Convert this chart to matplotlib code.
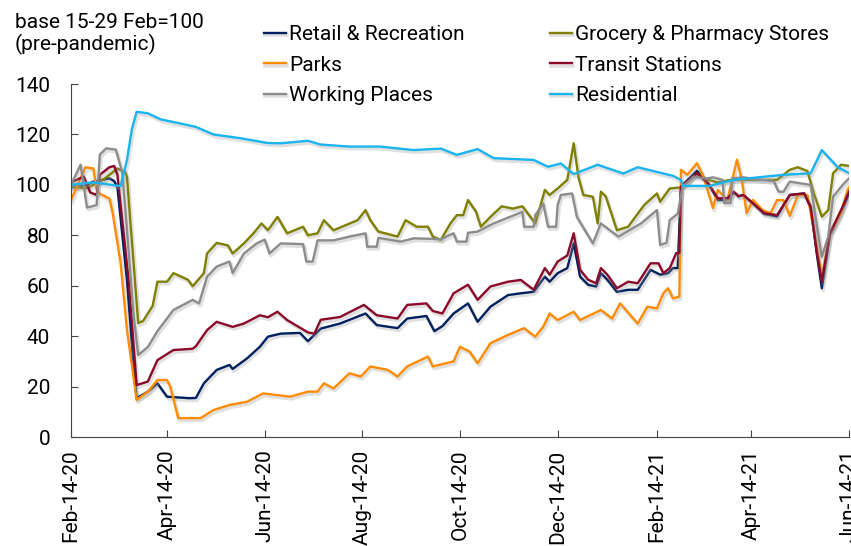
import numpy as np
import matplotlib.pyplot as plt
import matplotlib.dates as mdates
import matplotlib.patheffects as pe

plt.rcParams['font.family'] = ['Roboto', 'DejaVu Sans']

# days since 14 Feb 2020, index values (base 15-29 Feb = 100)
retail_days = [0, 8, 14, 24, 27, 29, 35, 39, 41, 48, 54, 60, 74, 78, 83, 91, 99, 101, 110, 118,
               123, 131, 143, 148, 156, 168, 184, 191, 204, 210, 222, 227, 232, 239, 248, 254,
               262, 273, 281, 289, 296, 299, 304, 310, 314, 318, 323, 328, 331, 335, 341, 348,
               354, 362, 368, 373, 376, 379, 381, 391, 398, 404, 410, 414, 417, 420, 426, 433,
               441, 449, 458, 462, 466, 469, 474, 481, 486]
retail = [99, 99.5, 101.3, 102.6, 101.5, 99, 62, 29, 15.4, 18, 21.3, 16, 15.4, 15.5, 21.3, 26.6,
          28.6, 27, 31.2, 35.8, 39.8, 41, 41.3, 38, 43, 45, 49, 44.4, 43.2, 47, 48, 42, 44, 49,
          53, 45.7, 51.7, 56.3, 57, 57.6, 63.6, 61.6, 65, 67, 76.8, 63.6, 60.4, 59.7, 65, 62.4,
          57.6, 58.4, 58.4, 66.3, 64.4, 65, 67, 67, 99.3, 105.6, 100.6, 94, 94, 97, 95.5, 96,
          92.7, 88.5, 87.5, 96, 96.6, 91, 72, 59, 80, 89, 96.5]

grocery_days = [0, 10, 20, 29, 34, 35, 37, 42, 45, 51, 54, 60, 64, 73, 76, 83, 85, 91, 98, 101,
                108, 114, 119, 123, 129, 135, 145, 148, 154, 158, 164, 179, 184, 187, 192, 204,
                209, 216, 223, 226, 231, 237, 241, 245, 248, 253, 256, 262, 269, 276, 282, 287,
                290, 293, 296, 299, 304, 310, 314, 317, 320, 326, 329, 331, 334, 341, 348, 358,
                366, 368, 374, 381, 391, 398, 404, 412, 420, 431, 441, 449, 454, 460, 464, 469,
                473, 476, 481, 486]
grocery = [99.3, 98.7, 102, 106.5, 105, 103, 86, 45.2, 46, 52, 61.6, 61.6, 65, 62.4, 59.8, 65,
           72.8, 77, 76, 72.8, 76.8, 80.8, 84.7, 82, 87.3, 80.8, 83.4, 80, 80.8, 86, 82, 86, 90,
           86, 81.5, 79.5, 86, 83.4, 83.4, 79.5, 78.2, 84.7, 88, 88, 94, 89.4, 83.4, 87.3, 91.5,
           90.6, 91.5, 87.3, 84.7, 91.3, 98, 96, 98.6, 102, 116.5, 103, 96, 95.3, 84.7, 97.3,
           95.5, 82, 83.4, 92, 96.6, 93.3, 98.6, 99, 104.6, 102, 101, 102, 102, 102, 102, 106,
           107, 105.5, 96.6, 87.4, 90, 104.6, 108, 107.5]

parks_days = [0, 9, 14, 16, 18, 24, 26, 31, 35, 41, 48, 54, 60, 62, 67, 81, 89, 99, 110, 120,
              137, 148, 154, 158, 164, 174, 181, 187, 198, 204, 210, 223, 226, 239, 243, 249,
              254, 262, 273, 283, 290, 295, 299, 304, 314, 318, 331, 338, 343, 354, 360, 366,
              370, 373, 376, 380, 381, 385, 391, 395, 401, 404, 410, 413, 416, 419, 422, 426,
              432, 437, 441, 445, 449, 454, 460, 464, 469, 474, 481, 485, 487]
parks = [94, 107, 106.5, 98, 96.5, 94.6, 89, 69, 42.4, 14.7, 18, 22.6, 22.6, 20, 7.5, 7.5, 10.7,
         12.7, 14, 17.3, 16, 18, 18, 21.3, 19.3, 25.3, 24, 28, 26.6, 24, 28, 31.9, 28, 30, 35.8,
         33.9, 29.3, 37.2, 40.5, 43.2, 39.8, 43.8, 49, 46.4, 49.7, 46.4, 50.4, 47, 53, 45, 51.7,
         51, 57, 59, 55, 55.7, 106, 104, 108.6, 103.5, 90.8, 98, 94, 102, 110, 102, 88.8, 94, 90,
         88.8, 94, 94, 87.7, 96, 96, 82, 63.6, 80.8, 88.8, 98, 100]

transit_days = [0, 8, 12, 16, 18, 24, 27, 29, 36, 41, 48, 54, 64, 76, 78, 85, 91, 101, 108, 118,
                123, 129, 135, 148, 152, 156, 168, 183, 191, 204, 210, 222, 226, 232, 239, 248,
                254, 262, 273, 281, 289, 296, 299, 304, 310, 314, 318, 323, 328, 331, 335, 341,
                348, 354, 362, 367, 370, 374, 378, 380, 381, 391, 398, 404, 410, 414, 417, 420,
                426, 433, 441, 449, 458, 462, 466, 469, 474, 481, 486]
transit = [101, 103.3, 97, 96, 104, 107, 107.5, 104, 62, 20.6, 22, 30.5, 34.5, 35, 36, 42.4, 45.7,
           43.7, 45, 48.3, 47.5, 49.7, 46.4, 41.5, 41, 46.5, 47.6, 52.4, 48.3, 47, 52.4, 53, 50,
           49, 57, 60.4, 54.4, 59.7, 61.6, 62.3, 58.4, 67, 64.4, 69.6, 72, 80.8, 66.3, 62.4, 61,
           67, 64.4, 59, 61.6, 61, 68.9, 68.9, 65, 67, 72.9, 73, 99.3, 104.6, 100.6, 94.7, 94.7,
           97.3, 95.5, 96, 92.7, 88.8, 88, 96, 96.6, 91.3, 72.9, 61.6, 80.8, 90, 97.3]

working_days = [0, 6, 10, 16, 18, 22, 28, 32, 35, 39, 42, 48, 54, 64, 76, 80, 85, 91, 99, 101,
                108, 116, 121, 124, 131, 145, 147, 151, 154, 164, 174, 184, 185, 191, 192, 206,
                214, 231, 239, 241, 247, 248, 254, 264, 274, 282, 283, 289, 290, 295, 298, 303,
                304, 306, 313, 316, 326, 331, 342, 356, 366, 368, 372, 374, 379, 382, 389, 397,
                401, 407, 408, 412, 413, 420, 431, 439, 442, 445, 449, 462, 466, 469, 473, 476,
                482, 486]
working = [100, 108, 91, 92, 112, 114.5, 114, 105, 82, 49, 32.5, 35.7, 42, 50.4, 54.4, 53, 63.6,
           67.6, 69.6, 65, 72.8, 76.8, 78.3, 72.8, 76.8, 76.5, 69.6, 69.6, 78, 78, 79.5, 80.8,
           75.5, 75.5, 79, 77.5, 78.8, 78.5, 80.8, 77.5, 77.5, 81, 81.5, 84.7, 87.3, 89.3, 83.4,
           83.4, 88, 92.6, 83.4, 83.4, 92, 96, 96.6, 87.3, 76.8, 84.7, 79.5, 84.7, 90, 76.2, 77,
           86, 88.6, 99.3, 103.3, 102.5, 103, 102, 92.8, 92.8, 102.6, 103, 102, 101.5, 97.3, 97.3,
           101.3, 100, 83.4, 71.5, 79.5, 95.3, 100, 102.6]

residential_days = [0, 14, 31, 35, 38, 41, 48, 56, 68, 78, 89, 106, 123, 131, 148, 156, 174, 193,
                    214, 231, 241, 254, 264, 289, 298, 306, 314, 329, 345, 354, 376, 381, 382,
                    399, 414, 445, 462, 469, 479, 486]
residential = [100, 101, 99.5, 110, 122, 129, 128.4, 126, 124.4, 123, 120, 118.5, 116.6, 116.5,
               117.5, 116, 115.2, 115.2, 113.8, 114.4, 111.9, 114.2, 110.6, 109.9, 107.2, 108.5,
               104.3, 108, 104.5, 107, 103.6, 102, 99.6, 99.6, 102, 104, 104.6, 113.8, 107, 104.7]

series = [
    ("Retail & Recreation", retail_days, retail, "#002060"),
    ("Grocery & Pharmacy Stores", grocery_days, grocery, "#808000"),
    ("Parks", parks_days, parks, "#FF8C00"),
    ("Transit Stations", transit_days, transit, "#8B0A2A"),
    ("Working Places", working_days, working, "#8C8C8C"),
    ("Residential", residential_days, residential, "#1AB4EE"),
]

start = np.datetime64("2020-02-14")
fs = 15

fig = plt.figure(figsize=(8.51, 5.46), dpi=100)
ax = fig.add_axes([0.0834, 0.1996, 0.9143, 0.6465])

shadow = [pe.SimpleLineShadow(offset=(1.0, -1.6), shadow_color="#999999", alpha=0.3, linewidth=2.6),
          pe.Normal()]

lines = {}
for name, days, vals, col in series:
    dates = start + np.array(days).astype("timedelta64[D]")
    ln, = ax.plot(dates, vals, color=col, linewidth=1.7, label=name, path_effects=shadow)
    lines[name] = ln

ax.set_ylim(0, 140)
ax.set_yticks(range(0, 141, 20))
ax.set_xlim(np.datetime64("2020-02-14"), np.datetime64("2021-06-14"))
ticks = [np.datetime64(d) for d in ["2020-02-14", "2020-04-14", "2020-06-14", "2020-08-14",
                                    "2020-10-14", "2020-12-14", "2021-02-14", "2021-04-14",
                                    "2021-06-14"]]
ax.set_xticks(ticks)
ax.xaxis.set_major_formatter(mdates.DateFormatter("%b-%d-%y"))
ax.tick_params(axis="x", rotation=90, direction="in", length=5, pad=9, labelsize=fs, color="#444444")
ax.tick_params(axis="y", direction="in", length=5, pad=15, labelsize=fs, color="#444444")
for s in ["top", "right"]:
    ax.spines[s].set_visible(False)
for s in ["left", "bottom"]:
    ax.spines[s].set_color("#444444")

fig.text(15 / 851, 1 - 13 / 546, "base 15-29 Feb=100\n(pre-pandemic)", fontsize=fs,
         va="top", ha="left", linespacing=1.12)

order = ["Retail & Recreation", "Parks", "Working Places",
         "Grocery & Pharmacy Stores", "Transit Stations", "Residential"]
leg = fig.legend([lines[n] for n in order], order, ncol=2, loc="upper left",
                 bbox_to_anchor=(264 / 851, 1 - 25 / 546), frameon=False, fontsize=fs,
                 handlelength=1.05, handletextpad=0.15, columnspacing=4.1, labelspacing=0.56,
                 borderaxespad=0, borderpad=0)

fig.savefig("out.png", dpi=100)
